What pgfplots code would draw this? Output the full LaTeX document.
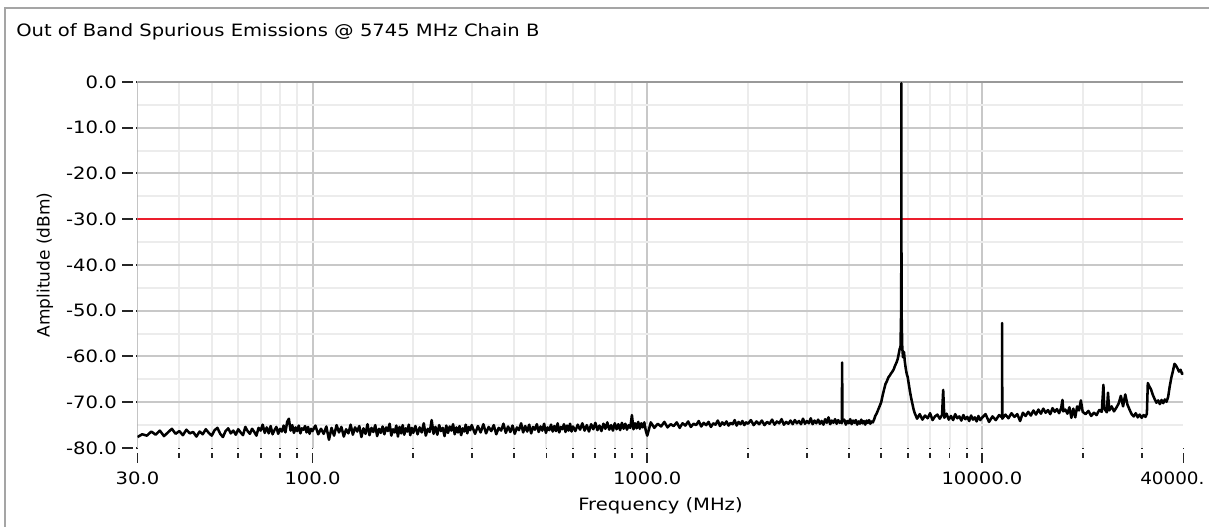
\documentclass[border=0pt]{standalone}
\usepackage{fontspec}
\setmainfont{DejaVu Sans}
\usepackage{graphicx}
\usepackage{pgfplots}
\pgfplotsset{compat=1.18}
\definecolor{majgrid}{RGB}{200,200,200}
\definecolor{mingrid}{RGB}{236,236,236}
\definecolor{framegray}{RGB}{165,165,165}
\definecolor{limitred}{RGB}{235,30,45}
% the reference's text is stretched sideways
\newcommand\sx[1]{\scalebox{1.15}[1]{#1}}

\begin{document}
\fontsize{12.75pt}{15pt}\selectfont
\begin{tikzpicture}[x=0.75pt,y=0.75pt]
\path[use as bounding box] (0,0) rectangle (1209,527);
% outer frame
\draw[framegray, line width=1.5pt] (5,0) -- (5,519) -- (1209,519);
\node[anchor=base west, inner sep=0pt] at (16,490) {\sx{Out of Band Spurious Emissions @ 5745 MHz Chain B}};

\begin{axis}[
  at={(103.1pt,59.25pt)}, anchor=south west,
  scale only axis, width=784.5pt, height=274.5pt,
  xmode=log, xmin=30, xmax=40000, ymin=-80, ymax=0,
  axis line style={draw=none},
  xtick pos=bottom, ytick pos=left,
  xtick={100,1000,10000}, xticklabels={\sx{100.0},\sx{1000.0},\sx{10000.0}},
  extra x ticks={30,40000},
  extra x tick labels={\sx{30.0},\makebox[0pt][l]{\hspace*{-32.4pt}\scalebox{1.08}[1]{40000.}}},
  extra x tick style={grid=none},
  minor xtick={40,50,60,70,80,90,200,300,400,500,600,700,800,900,2000,3000,4000,5000,6000,7000,8000,9000,20000,30000},
  ytick={-70,-60,-50,-40,-30,-20,-10},
  yticklabels={\sx{-70.0},\sx{-60.0},\sx{-50.0},\sx{-40.0},\sx{-30.0},\sx{-20.0},\sx{-10.0}},
  extra y ticks={-80,0}, extra y tick labels={\sx{-80.0},\sx{0.0}},
  extra y tick style={grid=none},
  minor ytick={-75,-65,-55,-45,-35,-25,-15,-5},
  grid=both,
  major grid style={majgrid, line width=1.5pt},
  minor grid style={mingrid, line width=1.5pt},
  tick align=outside,
  major tick length=11.25pt, minor tick length=7.5pt,
  x tick style={black!85, line width=1.3pt},
  y tick style={black!85, line width=1.5pt},
  minor y tick style={draw=none},
  xticklabel style={anchor=north, inner sep=0pt, yshift=-6.75pt},
  yticklabel style={anchor=east, inner sep=0pt, xshift=-4.1pt},
  xlabel={\sx{Frequency (MHz)}},
  ylabel={Amplitude (dBm)},
  every axis x label/.style={at={(axis description cs:0.5,-0.1339)}, anchor=north, inner sep=0pt},
  every axis y label/.style={at={(axis description cs:-0.0884,0.5)}, anchor=center, rotate=90, inner sep=0pt},
]
\draw[framegray, line width=1.5pt] (rel axis cs:0,0) -- (rel axis cs:0,1);
\draw[black!40, line width=2pt] (rel axis cs:0,1) -- (rel axis cs:1,1);

% limit line
\addplot[limitred, line width=1.5pt] coordinates {(30,-30) (40000,-30)};

% measured trace
\addplot[black, line width=1.9pt, line join=round] coordinates {
(30,-77.6)(31,-77.0)(32,-77.3)(33,-76.4)(34,-77.1)(35,-76.2)(36,-77.4)(37,-76.6)(38,-75.8)(39,-76.9)
(40,-76.3)(41,-77.2)(42,-76.0)(43,-76.8)(44,-76.5)(45,-77.5)(46,-76.4)(47,-77.0)(48,-75.9)(49,-76.7)
(50,-77.3)(51,-76.1)(52,-75.6)(53,-76.9)(54,-77.6)(55,-76.3)(56,-75.7)(57,-76.8)(58,-76.2)(59,-77.1)
(60,-75.9)(61,-76.6)(62,-77.2)(63,-75.4)(64,-76.3)(65,-76.9)(66,-75.8)(67,-76.5)(68,-77.3)(69,-75.6)
(70,-76.2)(71,-74.9)(72,-76.7)(73,-75.5)(74,-76.8)(75,-75.2)(76,-77.0)(77,-76.1)(78,-75.4)(79,-76.9)
(80,-75.8)(81,-76.4)(82,-75.1)(83,-76.6)(84,-74.3)(85,-73.6)(86,-76.2)(87,-75.0)(88,-76.7)(89,-75.5)
(90,-76.3)(91,-75.1)(92,-76.8)(93,-75.7)(94,-76.0)(95,-75.2)(96,-76.6)(97,-75.4)(98,-76.9)(99,-75.8)
(100,-76.3)
(102,-75.1)(104,-77.0)(106,-75.8)(108,-76.9)(110,-75.3)(112,-78.2)(114,-75.6)(116,-77.3)(118,-75.0)(120,-76.6)
(122,-75.4)(124,-77.5)(126,-75.9)(128,-76.8)(130,-74.9)(132,-77.1)(134,-75.5)(136,-76.4)(138,-75.2)(140,-77.6)
(142,-75.7)(144,-76.9)(146,-74.8)(148,-77.2)(150,-75.6)(152,-76.5)(154,-75.0)(156,-77.4)(158,-75.8)(160,-76.7)
(162,-75.3)(164,-77.0)(166,-75.5)(168,-76.3)(170,-74.7)(172,-77.3)(174,-75.9)(176,-76.6)(178,-75.1)(180,-77.5)
(182,-75.4)(184,-76.8)(186,-75.0)(188,-77.1)(190,-75.7)(192,-76.4)(194,-74.9)(196,-77.2)(198,-75.6)(200,-76.7)
(203,-75.2)(206,-77.0)(209,-75.5)(212,-76.6)(215,-74.6)(218,-77.3)(221,-75.8)(224,-76.5)(227,-73.9)(230,-76.9)
(233,-75.4)(236,-77.1)(239,-75.0)(242,-76.3)(245,-75.6)(248,-77.4)(251,-75.1)(254,-76.7)(257,-75.3)(260,-76.2)
(263,-74.8)(266,-77.0)(269,-75.5)(272,-76.6)(275,-75.2)(278,-77.2)(281,-75.7)(284,-76.4)(287,-74.9)(290,-76.8)
(293,-75.4)(296,-76.1)(299,-75.0)
(306,-76.9)(312,-75.2)(318,-76.6)(324,-74.8)(330,-76.8)(336,-75.4)(342,-76.3)(348,-75.0)(354,-77.0)(360,-75.6)
(366,-76.2)(372,-74.7)(378,-76.7)(384,-75.3)(390,-76.5)(396,-75.1)(402,-76.9)(408,-75.5)(414,-76.1)(420,-74.6)
(426,-76.6)(432,-75.2)(438,-76.4)(444,-74.9)(450,-76.8)(456,-75.4)(462,-76.0)(468,-74.8)(474,-76.5)(480,-75.3)
(486,-76.2)(492,-74.7)(498,-76.7)(504,-75.5)(510,-76.1)(516,-74.9)(522,-76.4)(528,-75.2)(534,-76.3)(540,-74.6)
(546,-76.6)(552,-75.4)(558,-75.9)(564,-74.8)(570,-76.5)(576,-75.1)(582,-76.2)(588,-74.7)(594,-76.4)(600,-75.3)
(610,-76.3)(620,-74.9)(630,-76.0)(640,-74.6)(650,-76.2)(660,-75.0)(670,-76.4)(680,-74.8)(690,-75.9)(700,-74.5)
(710,-76.1)(720,-75.1)(730,-76.3)(740,-74.7)(750,-75.8)(760,-74.4)(770,-76.0)(780,-75.0)(790,-76.2)(800,-74.6)
(810,-75.9)(820,-74.8)(830,-76.1)(840,-74.5)(850,-75.8)(860,-74.7)(870,-76.0)(880,-75.0)(890,-75.6)(900,-72.8)
(910,-75.9)(920,-74.6)(930,-75.7)(940,-74.3)(950,-75.8)(960,-74.6)(970,-75.5)(980,-74.4)(990,-76.2)(1000,-77.3)
(1025,-74.4)(1050,-75.6)(1075,-74.7)(1100,-75.3)(1125,-74.3)(1150,-75.5)(1175,-74.8)(1200,-75.2)(1225,-74.4)(1250,-75.6)
(1275,-74.6)(1300,-75.1)(1325,-74.2)(1350,-75.4)(1375,-74.7)(1400,-75.0)(1425,-74.1)(1450,-75.3)(1475,-74.5)(1500,-75.0)
(1525,-74.3)(1550,-75.4)(1575,-74.6)(1600,-74.9)(1625,-74.0)(1650,-75.2)(1675,-74.4)(1700,-74.9)(1725,-74.2)(1750,-75.1)
(1775,-74.5)(1800,-74.8)(1825,-73.9)(1850,-75.1)(1875,-74.3)(1900,-74.8)(1925,-74.1)(1950,-75.0)(1975,-74.4)(2000,-74.7)
(2040,-73.9)(2080,-75.0)(2120,-74.2)(2160,-74.8)(2200,-74.0)(2240,-75.0)(2280,-74.3)(2320,-74.7)(2360,-73.8)(2400,-74.9)
(2440,-74.2)(2480,-74.6)(2520,-73.7)(2560,-74.9)(2600,-74.3)(2640,-74.7)(2680,-74.0)(2720,-74.8)(2760,-73.9)(2800,-74.6)
(2840,-74.1)(2880,-74.8)(2920,-73.6)(2960,-74.7)(3000,-74.1)(3040,-74.6)(3080,-73.5)(3120,-74.8)(3160,-74.0)(3200,-74.6)
(3240,-73.8)(3280,-74.7)(3320,-74.1)(3360,-74.9)(3400,-73.7)(3440,-74.5)(3480,-73.3)(3520,-74.8)(3560,-74.0)(3600,-74.5)
(3640,-73.7)(3680,-74.7)(3720,-73.9)(3760,-74.5)(3800,-74.1)(3815,-74.6)(3822,-61.3)(3830,-74.2)(3880,-73.8)(3920,-74.9)
(3960,-74.1)(4000,-74.6)(4040,-73.7)(4080,-74.8)(4120,-74.0)(4160,-74.5)(4200,-73.9)(4240,-74.9)(4280,-74.2)(4320,-74.7)
(4360,-73.8)(4400,-74.6)(4440,-74.1)(4480,-74.9)(4520,-74.0)(4560,-74.5)(4600,-73.9)(4640,-74.7)(4680,-74.2)(4720,-74.4)
(4760,-73.8)(4800,-73.0)(4850,-72.4)(4900,-71.6)(4950,-70.8)(5000,-70.0)(5050,-68.5)(5100,-67.2)(5150,-66.0)(5200,-65.4)
(5250,-64.6)(5300,-64.2)(5350,-63.7)(5400,-63.3)(5450,-62.8)(5500,-62.0)(5550,-61.4)(5600,-60.6)(5640,-59.5)(5680,-58.3)
(5710,-58.0)(5730,-52.0)(5740,-47.0)(5745,-0.3)(5750,-46.8)(5760,-52.5)(5780,-58.0)(5810,-60.2)(5850,-59.0)(5880,-61.0)
(5920,-62.6)(5960,-63.8)(6000,-64.5)(6050,-66.2)(6100,-67.8)(6150,-69.2)(6200,-70.4)(6250,-71.6)(6300,-72.4)(6350,-73.0)
(6400,-73.6)
(6520,-72.6)(6640,-73.8)(6760,-72.9)(6880,-73.5)(7000,-72.4)(7120,-73.9)(7240,-73.1)(7360,-72.7)(7480,-73.6)(7600,-72.8)
(7660,-67.3)(7720,-73.4)(7840,-72.5)(7960,-73.8)(8080,-73.0)(8200,-73.9)(8320,-72.6)(8440,-73.5)(8560,-73.1)(8680,-74.0)
(8800,-72.8)(8920,-73.7)(9040,-73.2)(9160,-74.1)(9280,-72.9)(9400,-73.8)(9520,-73.3)(9640,-74.2)(9760,-73.0)(9880,-73.9)
(10000,-73.4)
(10250,-72.6)(10500,-74.3)(10750,-73.1)(11000,-73.9)(11250,-72.8)(11480,-73.3)(11490,-52.7)(11500,-73.6)(11750,-72.7)(12000,-73.5)
(12250,-72.4)(12500,-73.2)(12750,-72.6)(13000,-74.1)(13250,-72.3)(13500,-73.0)(13750,-72.1)(14000,-72.9)(14250,-71.8)(14500,-72.7)
(14750,-71.6)(15000,-72.5)(15250,-71.4)(15500,-72.3)(15750,-71.7)(16000,-72.6)(16250,-71.3)(16500,-72.1)(16750,-71.5)(17000,-72.4)
(17250,-71.2)(17400,-69.5)(17500,-72.0)(17750,-71.6)(18000,-72.5)(18250,-71.1)(18500,-73.4)(18750,-71.4)(19000,-73.3)(19250,-70.9)
(19500,-71.8)(19750,-69.6)(20000,-72.1)
(20400,-72.6)(20800,-71.9)(21200,-73.0)(21600,-72.3)(22000,-72.8)(22400,-71.7)(22800,-72.1)(23060,-66.2)(23200,-71.4)(23600,-72.2)
(23800,-67.9)(24000,-71.8)(24400,-70.9)(24800,-72.0)(25200,-71.2)(25600,-70.3)(26000,-68.6)(26400,-70.9)(26800,-68.3)(27200,-70.5)
(27600,-71.6)(28000,-72.6)(28400,-73.1)(28800,-72.4)(29200,-73.3)(29600,-72.7)(30000,-73.4)(30400,-72.8)(30800,-73.2)(31100,-72.5)
(31300,-65.8)(31600,-66.5)(32000,-67.2)(32400,-68.4)(32800,-69.3)(33200,-70.1)(33600,-69.6)(34000,-70.4)(34400,-69.5)(34800,-70.2)
(35200,-69.4)(35600,-69.9)(36000,-68.8)(36400,-66.5)(36800,-64.6)(37200,-63.2)(37600,-61.6)(38000,-62.0)(38400,-62.6)(38800,-63.3)
(39200,-62.9)(39600,-63.8)(40000,-63.6)
};
\end{axis}
% gap between the axes and their tick marks
\fill[white] (132.5,75) rectangle (136.2,452);
\fill[white] (125,73.5) rectangle (1204,77.6);
\end{tikzpicture}
\end{document}
